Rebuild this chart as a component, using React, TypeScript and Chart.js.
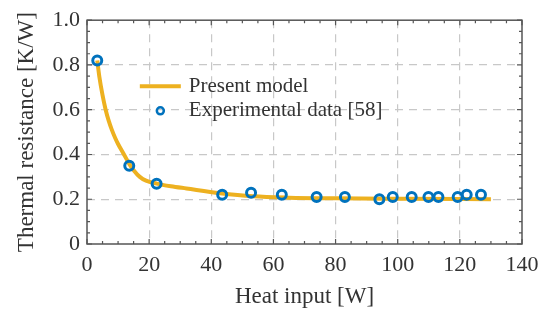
import React, { useEffect, useRef } from "react";
import { Chart, registerables } from "chart.js";

Chart.register(...registerables);

const expX = [3.3, 13.6, 22.4, 43.5, 52.8, 62.7, 73.9, 83.0, 94.1, 98.4, 104.5, 109.9, 113.1, 119.3, 122.2, 126.8];
const expY = [0.82, 0.35, 0.269, 0.22, 0.229, 0.22, 0.21, 0.21, 0.2, 0.21, 0.21, 0.21, 0.21, 0.21, 0.22, 0.22];

const modelX = [3.3, 4, 5, 6, 7, 8, 9, 10, 11.9, 13.6, 15, 17, 19, 22.4, 27, 32, 42.8, 53.5, 65, 80, 100, 130];
const modelY = [0.82, 0.745, 0.665, 0.6, 0.55, 0.51, 0.476, 0.447, 0.4, 0.358, 0.33, 0.3, 0.283, 0.27, 0.258, 0.248, 0.227, 0.213, 0.207, 0.204, 0.202, 0.2];

const modelLabel = "Present model";
const expLabel = "Experimental data [58]";
const xTitle = "Heat input [W]";
const yTitle = "Thermal resistance [K/W]";

const FONT = "'Liberation Serif', 'DejaVu Serif', serif";
const LINE_COLOR = "#EDB120";
const MARK_COLOR = "#0072BD";
const TEXT_COLOR = "#333333";
const FRAME_COLOR = "#555555";

export default function App() {
  const ref = useRef<HTMLCanvasElement | null>(null);

  useEffect(() => {
    if (!ref.current) return;

    const framePlugin = {
      id: "frame",
      afterDraw(chart: any) {
        const { ctx, chartArea: a, scales } = chart;
        const xs = scales.x;
        const ys = scales.y;
        ctx.save();
        ctx.strokeStyle = FRAME_COLOR;
        ctx.lineWidth = 1.5;
        ctx.strokeRect(a.left, a.top, a.right - a.left, a.bottom - a.top);
        ctx.lineWidth = 1.2;
        ctx.beginPath();
        for (let v = 0; v <= 140; v += 5) {
          const px = xs.getPixelForValue(v);
          const len = v % 20 === 0 ? 5 : 3;
          ctx.moveTo(px, a.bottom);
          ctx.lineTo(px, a.bottom - len);
          ctx.moveTo(px, a.top);
          ctx.lineTo(px, a.top + len);
        }
        for (let i = 0; i <= 20; i++) {
          const v = i * 0.05;
          const py = ys.getPixelForValue(v);
          const len = i % 4 === 0 ? 5 : 3;
          ctx.moveTo(a.left, py);
          ctx.lineTo(a.left + len, py);
          ctx.moveTo(a.right, py);
          ctx.lineTo(a.right - len, py);
        }
        ctx.stroke();

        // legend
        const lx = xs.getPixelForValue(17);
        const ly1 = ys.getPixelForValue(0.705);
        const ly2 = ys.getPixelForValue(0.595);
        ctx.strokeStyle = LINE_COLOR;
        ctx.lineWidth = 4;
        ctx.beginPath();
        ctx.moveTo(lx, ly1);
        ctx.lineTo(lx + 41, ly1);
        ctx.stroke();
        ctx.strokeStyle = MARK_COLOR;
        ctx.lineWidth = 2.5;
        ctx.beginPath();
        ctx.arc(lx + 20.5, ly2, 3.5, 0, Math.PI * 2);
        ctx.stroke();
        ctx.fillStyle = TEXT_COLOR;
        ctx.font = `21px ${FONT}`;
        ctx.textBaseline = "middle";
        ctx.textAlign = "left";
        ctx.fillText(modelLabel, lx + 49, ly1);
        ctx.fillText(expLabel, lx + 49, ly2);
        ctx.restore();
      },
    };

    const chart = new Chart(ref.current, {
      type: "scatter",
      data: {
        datasets: [
          {
            label: expLabel,
            data: expX.map((x, i) => ({ x, y: expY[i] })),
            showLine: false,
            pointRadius: 4.5,
            pointBorderWidth: 3,
            pointBorderColor: MARK_COLOR,
            pointBackgroundColor: "rgba(0,0,0,0)",
            order: 1,
          },
          {
            label: modelLabel,
            data: modelX.map((x, i) => ({ x, y: modelY[i] })),
            showLine: true,
            borderColor: LINE_COLOR,
            borderWidth: 4,
            pointRadius: 0,
            cubicInterpolationMode: "monotone",
            order: 2,
          },
        ],
      },
      options: {
        responsive: false,
        animation: false,
        layout: { padding: { top: 16, right: 27, left: 0, bottom: 0 } },
        plugins: { legend: { display: false }, tooltip: { enabled: false } },
        scales: {
          x: {
            type: "linear",
            min: 0,
            max: 140,
            afterFit: (s: any) => {
              s.height = 67;
            },
            ticks: {
              stepSize: 20,
              padding: 8,
              color: TEXT_COLOR,
              font: { family: FONT, size: 22 },
              maxRotation: 0,
            },
            grid: {
              drawTicks: false,
              color: (c: any) =>
                c.tick && (c.tick.value === 0 || c.tick.value === 140) ? "rgba(0,0,0,0)" : "#c8c8c8",
              lineWidth: 1.2,
            },
            border: { display: false, dash: [8, 6] },
            title: {
              display: true,
              text: xTitle,
              color: TEXT_COLOR,
              font: { family: FONT, size: 23 },
              padding: { top: 0, bottom: 0 },
            },
          },
          y: {
            type: "linear",
            min: 0,
            max: 1,
            afterFit: (s: any) => {
              s.width = 87;
            },
            ticks: {
              stepSize: 0.2,
              padding: 7,
              color: TEXT_COLOR,
              font: { family: FONT, size: 22 },
              callback: (v: any) => (Number(v) === 0 ? "0" : Number(v).toFixed(1)),
            },
            grid: {
              drawTicks: false,
              color: (c: any) =>
                c.tick && (Math.abs(c.tick.value) < 1e-9 || Math.abs(c.tick.value - 1) < 1e-9)
                  ? "rgba(0,0,0,0)"
                  : "#c8c8c8",
              lineWidth: 1.2,
            },
            border: { display: false, dash: [8, 6] },
            title: {
              display: true,
              text: yTitle,
              color: TEXT_COLOR,
              font: { family: FONT, size: 23 },
              padding: { top: 13, bottom: 0 },
            },
          },
        },
      },
      plugins: [framePlugin],
    });
    return () => chart.destroy();
  }, []);

  return (
    <div style={{ position: "fixed", left: 0, top: 0, width: 549, height: 311, background: "#fff" }}>
      <canvas ref={ref} width={549} height={311} />
    </div>
  );
}
